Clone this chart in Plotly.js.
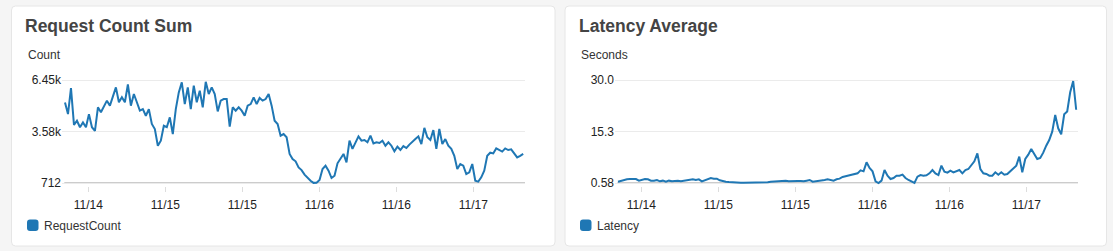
<!DOCTYPE html>
<html>
<head>
<meta charset="utf-8">
<script src="https://cdn.plot.ly/plotly-3.0.1.min.js"></script>
<style>
  html, body { margin: 0; padding: 0; background: #f5f5f5; }
  #chart { width: 1113px; height: 251px; }
</style>
</head>
<body>
<div id="chart"></div>
<script>
// ---- data ----
const startTime = '2016-11-14T08:22:00Z';
const stepMinutes = 28;

const requestCount = [
  5200, 4550, 6000, 3950, 4180, 3820, 4090, 3820, 4550, 3820,
  3620, 4930, 4650, 5020, 5300, 5020, 5490, 6040, 5210, 5490,
  5210, 6200, 5020, 5670, 5210, 4740, 4830, 4460, 4830, 4000,
  3720, 2790, 3070, 3900, 3820, 4370, 3440, 4830, 5760, 6320,
  5110, 6040, 4830, 6130, 5210, 5850, 4930, 6350, 5670, 6040,
  5670, 4700, 5300, 5390, 5390, 3850, 4930, 4740, 4930, 4740,
  4460, 5020, 5110, 5480, 5110, 5450, 5300, 5390, 5670, 5020,
  4180, 4000, 3350, 3440, 3260, 2330, 2050, 1920, 1580, 1430,
  1180, 990, 840, 720, 730, 880, 1490, 1680, 1400, 990,
  1120, 1810, 2050, 2330, 1860, 3070, 2610, 2980, 3310, 3070,
  3110, 2980, 3350, 2920, 2980, 2940, 3070, 2790, 2980, 2790,
  2480, 2740, 2550, 2770, 2660, 2850, 2980, 3160, 3310, 2880,
  3780, 3260, 3110, 3660, 2610, 3720, 2880, 3160, 2790, 2610,
  2230, 1490, 1770, 1680, 1210, 1310, 1770, 840, 790, 1030,
  1400, 2230, 2400, 2360, 2640, 2550, 2460, 2640, 2550, 2590,
  2360, 2140, 2220, 2330
];

const latency = [
  0.96, 1.25, 1.44, 1.63, 1.72, 1.63, 1.72, 1.25, 1.44, 1.72,
  1.63, 1.25, 1.25, 1.44, 1.06, 1.25, 0.96, 1.25, 1.06, 1.25,
  1.25, 1.06, 1.15, 1.25, 1.44, 1.63, 1.44, 1.63, 1.06, 1.44,
  1.72, 2.01, 1.82, 1.82, 1.34, 1.06, 0.96, 0.87, 0.77, 0.68,
  0.68, 0.66, 0.64, 0.63, 0.62, 0.62, 0.63, 0.65, 0.68, 0.68,
  0.77, 0.96, 1.06, 1.06, 1.06, 1.15, 1.25, 1.06, 1.15, 1.06,
  1.15, 1.15, 1.06, 1.25, 1.44, 0.96, 1.06, 1.06, 1.15, 1.44,
  1.63, 1.53, 1.25, 1.63, 1.82, 2.30, 2.48, 2.67, 2.86, 3.15,
  3.34, 4.20, 3.91, 6.48, 4.86, 3.91, 1.06, 0.58, 1.25, 4.29,
  2.67, 1.72, 2.01, 2.67, 2.67, 2.96, 2.01, 1.44, 1.06, 0.58,
  2.39, 2.86, 2.67, 2.77, 3.34, 4.29, 3.34, 2.86, 5.53, 3.82,
  3.53, 4.10, 3.63, 4.01, 4.29, 3.34, 4.29, 4.58, 5.53, 6.77,
  9.05, 4.58, 3.34, 3.15, 2.67, 2.67, 3.63, 2.96, 3.63, 2.96,
  3.15, 3.91, 4.58, 5.53, 8.10, 3.63, 7.43, 8.67, 10.29, 8.86,
  7.43, 7.72, 9.24, 11.24, 12.86, 15.24, 20.00, 16.20, 14.50, 20.20,
  21.00, 26.50, 29.70, 21.50
];

const xTickVals = ['2016-11-14 12:00', '2016-11-15 00:00', '2016-11-15 12:00',
                   '2016-11-16 00:00', '2016-11-16 12:00', '2016-11-17 00:00'];
const xTickText = ['11/14', '11/15', '11/15', '11/16', '11/16', '11/17'];

const countTickVals = [712, 3580, 6450];
const countTickText = ['712', '3.58k', '6.45k'];
const latencyTickVals = [0.58, 15.3, 30.0];
const latencyTickText = ['0.58', '15.3', '30.0'];

const panelTitles = ['Request Count Sum', 'Latency Average'];
const unitLabels = ['Count', 'Seconds'];
const seriesNames = ['RequestCount', 'Latency'];

// ---- build time axis from sampling grid ----
function fmt(d) { return d.toISOString().slice(0, 19).replace('T', ' '); }
const t0 = new Date(startTime).getTime();
const times = requestCount.map((_, i) => fmt(new Date(t0 + i * stepMinutes * 60000)));

// ---- layout helpers (pixel -> paper) ----
const W = 1113, H = 251;
const px = v => v / W;
const py = v => (H - v) / H;
const blue = '#1f77b4';
const font = 'Liberation Sans, Arial, Helvetica, sans-serif';

function roundRect(x0, y0, x1, y1, r) {
  const X = v => px(v), Y = v => py(v);
  const rx = r / W, ry = r / H;
  return `M ${X(x0) + rx},${Y(y0)} L ${X(x1) - rx},${Y(y0)} Q ${X(x1)},${Y(y0)} ${X(x1)},${Y(y0) - ry} ` +
         `L ${X(x1)},${Y(y1) + ry} Q ${X(x1)},${Y(y1)} ${X(x1) - rx},${Y(y1)} ` +
         `L ${X(x0) + rx},${Y(y1)} Q ${X(x0)},${Y(y1)} ${X(x0)},${Y(y1) + ry} ` +
         `L ${X(x0)},${Y(y0) - ry} Q ${X(x0)},${Y(y0)} ${X(x0) + rx},${Y(y0)} Z`;
}

const xRange = ['2016-11-14 07:54', '2016-11-17 08:03'];
const yDomain = [py(186), py(77)];

const traces = [
  { x: times, y: requestCount, type: 'scatter', mode: 'lines', name: seriesNames[0],
    line: { color: blue, width: 2 }, xaxis: 'x', yaxis: 'y', showlegend: false },
  { x: times, y: latency, type: 'scatter', mode: 'lines', name: seriesNames[1],
    line: { color: blue, width: 2 }, xaxis: 'x2', yaxis: 'y2', showlegend: false }
];

function xAxis(domain, anchor) {
  return {
    type: 'date', domain: domain, range: xRange, anchor: anchor,
    tickmode: 'array', tickvals: xTickVals, ticktext: xTickText,
    ticks: 'outside', ticklen: 5, tickcolor: '#dddddd', tickwidth: 1,
    ticklabelstandoff: 3,
    showgrid: false, zeroline: false, showline: false,
    tickfont: { family: font, size: 12, color: '#222' }, fixedrange: true
  };
}
function yAxis(range, vals, text, anchor) {
  return {
    domain: yDomain, range: range, anchor: anchor,
    tickmode: 'array', tickvals: vals, ticktext: text,
    showgrid: true, gridcolor: '#ebebeb', gridwidth: 1,
    zeroline: false, showline: false, ticks: '',
    tickfont: { family: font, size: 12, color: '#222' }, fixedrange: true
  };
}

const annText = (text, x, y, size, color, bold) => ({
  text: bold ? '<b>' + text + '</b>' : text, xref: 'paper', yref: 'paper',
  x: px(x), y: py(y), xanchor: 'left', yanchor: 'middle', showarrow: false,
  font: { family: font, size: size, color: color }
});

const shapes = [
  { type: 'path', path: roundRect(11.5, 6, 555, 246, 4), xref: 'paper', yref: 'paper',
    fillcolor: '#ffffff', line: { color: '#e6e6e6', width: 1 }, layer: 'below' },
  { type: 'path', path: roundRect(565, 6, 1106.5, 246, 4), xref: 'paper', yref: 'paper',
    fillcolor: '#ffffff', line: { color: '#e6e6e6', width: 1 }, layer: 'below' },
  // baselines
  { type: 'line', xref: 'x domain', yref: 'y', x0: 0.005, x1: 1, y0: countTickVals[0], y1: countTickVals[0],
    line: { color: '#cccccc', width: 2 }, layer: 'below' },
  { type: 'line', xref: 'x2 domain', yref: 'y2', x0: 0.005, x1: 1, y0: latencyTickVals[0], y1: latencyTickVals[0],
    line: { color: '#cccccc', width: 2 }, layer: 'below' },
  // legend swatches
  { type: 'path', path: roundRect(27, 219.5, 38.5, 231, 3), xref: 'paper', yref: 'paper',
    fillcolor: blue, line: { width: 0 } },
  { type: 'path', path: roundRect(580, 219.5, 591.5, 231, 3), xref: 'paper', yref: 'paper',
    fillcolor: blue, line: { width: 0 } }
];

const annotations = [
  annText(panelTitles[0], 22.5, 25.5, 17.5, '#444', true),
  annText(panelTitles[1], 577, 25.5, 17.5, '#444', true),
  annText(unitLabels[0], 25.5, 54.5, 12, '#333', false),
  annText(unitLabels[1], 578.5, 54.5, 12, '#333', false),
  annText(seriesNames[0], 42, 226, 12, '#333', false),
  annText(seriesNames[1], 595, 226, 12, '#333', false)
];

const layout = {
  width: W, height: H,
  margin: { l: 0, r: 0, t: 0, b: 0 },
  paper_bgcolor: '#f5f5f5', plot_bgcolor: 'rgba(0,0,0,0)',
  showlegend: false,
  xaxis: xAxis([px(62), px(525)], 'y'),
  yaxis: yAxis([545, 6617], countTickVals, countTickText, 'x'),
  xaxis2: xAxis([px(615), px(1078)], 'y2'),
  yaxis2: yAxis([-0.277, 30.857], latencyTickVals, latencyTickText, 'x2'),
  shapes: shapes,
  annotations: annotations,
  font: { family: font }
};

Plotly.newPlot('chart', traces, layout, { staticPlot: true, displayModeBar: false });
</script>
</body>
</html>
